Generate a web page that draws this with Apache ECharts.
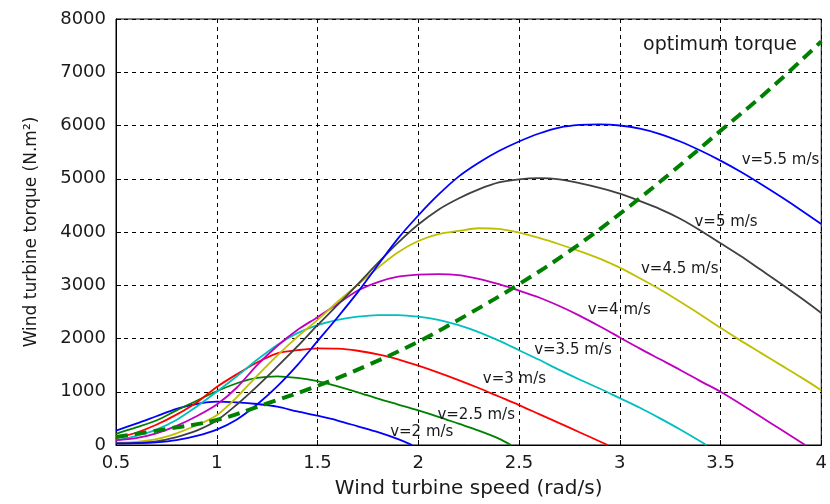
<!DOCTYPE html>
<html>
<head>
<meta charset="utf-8">
<script src="https://cdn.jsdelivr.net/npm/echarts@6/dist/echarts.min.js"></script>
<style>html,body{margin:0;padding:0;background:#fff}#c{width:830px;height:504px}</style>
</head>
<body>
<div id="c"></div>
<script>
var xTicks = [0.5, 1, 1.5, 2, 2.5, 3, 3.5, 4];
var yTicks = [0, 1000, 2000, 3000, 4000, 5000, 6000, 7000, 8000];

var v2_x  = [0.5,0.6,0.7,0.8,0.9,1.0,1.1,1.2,1.3,1.4,1.5,1.6,1.7,1.8,1.9,1.97];
var v2_t  = [270,400,540,680,770,815,800,770,720,630,550,460,350,240,110,0];

var v25_x = [0.5,0.6,0.7,0.8,0.9,1.0,1.1,1.2,1.3,1.4,1.5,1.6,1.7,1.8,1.9,2.0,2.1,2.2,2.3,2.4,2.46];
var v25_t = [210,330,460,650,830,1010,1160,1260,1290,1260,1200,1100,990,870,760,650,530,400,270,120,0];

var v3_x  = [0.5,0.6,0.7,0.8,0.9,1.0,1.1,1.2,1.3,1.4,1.5,1.6,1.7,1.8,1.9,2.0,2.1,2.2,2.3,2.4,2.5,2.6,2.7,2.8,2.94];
var v3_t  = [130,230,380,570,800,1090,1330,1550,1720,1780,1815,1810,1770,1700,1610,1490,1360,1220,1070,910,750,580,410,240,0];

var v35_x = [0.5,0.6,0.7,0.8,0.9,1.0,1.1,1.2,1.3,1.4,1.5,1.6,1.7,1.8,1.9,2.0,2.1,2.2,2.3,2.4,2.5,2.6,2.7,2.8,2.9,3.0,3.1,3.2,3.3,3.43];
var v35_t = [80,170,290,470,720,1000,1290,1600,1880,2100,2250,2350,2410,2440,2440,2410,2350,2250,2120,1960,1780,1600,1410,1230,1060,880,700,500,290,0];

var v4_x  = [0.5,0.6,0.7,0.8,0.9,1.0,1.1,1.2,1.3,1.4,1.5,1.6,1.7,1.8,1.9,2.0,2.1,2.2,2.3,2.4,2.5,2.6,2.7,2.8,2.9,3.0,3.1,3.2,3.3,3.4,3.5,3.6,3.7,3.8,3.92];
var v4_t  = [90,130,220,360,540,760,1080,1500,1860,2160,2400,2650,2900,3060,3160,3200,3210,3190,3120,3020,2900,2770,2610,2430,2230,2020,1810,1610,1410,1200,1000,770,530,290,0];

var full_x = [0.5,0.6,0.7,0.8,0.9,1.0,1.1,1.2,1.3,1.4,1.5,1.6,1.7,1.8,1.9,2.0,2.1,2.2,2.3,2.4,2.5,2.6,2.7,2.8,2.9,3.0,3.1,3.2,3.3,3.4,3.5,3.6,3.7,3.8,3.9,4.0];
var v45_t = [40,60,110,220,370,560,900,1300,1680,2030,2350,2690,3010,3330,3620,3830,3960,4020,4070,4060,3990,3890,3770,3640,3500,3330,3130,2920,2690,2450,2200,1960,1730,1500,1270,1030];
var v5_t  = [30,40,70,150,270,460,760,1100,1470,1850,2250,2630,3020,3420,3800,4140,4420,4630,4800,4930,4990,5010,4990,4920,4830,4720,4580,4430,4250,4030,3790,3550,3290,3030,2760,2480];
var v55_t = [30,35,50,90,170,290,480,760,1100,1500,1950,2400,2870,3380,3880,4310,4700,5040,5300,5520,5700,5850,5960,6010,6020,6000,5940,5840,5700,5530,5340,5130,4900,4660,4410,4150];

var opt_x = [0.5,0.75,1.0,1.25,1.5,1.75,2.0,2.25,2.5,2.75,3.0,3.25,3.5,3.75,4.0];
var opt_t = [150,300,470,780,1110,1500,1940,2460,3020,3640,4340,5100,5900,6700,7580];

var curveNames = ['v=2 m/s','v=2.5 m/s','v=3 m/s','v=3.5 m/s','v=4 m/s','v=4.5 m/s','v=5 m/s','v=5.5 m/s'];
var optName = 'optimum torque';

function pairs(xs, ys) { return xs.map(function (x, i) { return [x, ys[i]]; }); }

var FONT = 'DejaVu Sans';
var TXT = '#1a1a1a';

function curve(name, xs, ys, color, labelCoord) {
  return {
    name: name, type: 'line', data: pairs(xs, ys), smooth: 0.3,
    showSymbol: false, symbol: 'none', animation: false,
    lineStyle: { color: color, width: 1.8 },
    markPoint: {
      symbol: 'rect', symbolSize: 1, itemStyle: { color: 'rgba(0,0,0,0)' },
      label: { show: true, formatter: name, position: [0, 0], align: 'center', verticalAlign: 'middle',
               color: TXT, fontFamily: FONT, fontSize: 15 },
      data: [{ coord: labelCoord }]
    }
  };
}

var chart = echarts.init(document.getElementById('c'), null, { renderer: 'canvas' });
chart.setOption({
  animation: false,
  backgroundColor: '#ffffff',
  grid: { left: 116, right: 2, top: 19, bottom: 59, show: true, borderColor: '#000', borderWidth: 1, backgroundColor: '#fff' },
  xAxis: {
    type: 'value', min: 0.5, max: 4, interval: 0.5,
    name: 'Wind turbine speed (rad/s)', nameLocation: 'middle', nameGap: 34,
    nameTextStyle: { color: TXT, fontFamily: FONT, fontSize: 20 },
    axisLine: { show: true, lineStyle: { color: '#000', width: 1 } },
    axisTick: { show: true, inside: true, length: 5, lineStyle: { color: '#000' } },
    axisLabel: { color: TXT, fontFamily: FONT, fontSize: 18, margin: 9,
                 formatter: function (v) { return xTicks.indexOf(v) >= 0 ? String(v) : ''; } },
    splitLine: { show: true, lineStyle: { color: '#000', type: [4, 4], width: 1 } }
  },
  yAxis: {
    type: 'value', min: 0, max: 8000, interval: 1000,
    name: 'Wind turbine torque (N.m²)', nameLocation: 'middle', nameGap: 76,
    nameTextStyle: { color: TXT, fontFamily: FONT, fontSize: 17 },
    axisLine: { show: true, lineStyle: { color: '#000', width: 1 } },
    axisTick: { show: true, inside: true, length: 5, lineStyle: { color: '#000' } },
    axisLabel: { color: TXT, fontFamily: FONT, fontSize: 18, margin: 10,
                 formatter: function (v) { return yTicks.indexOf(v) >= 0 ? String(v) : ''; } },
    splitLine: { show: true, lineStyle: { color: '#000', type: [4, 4], width: 1 } }
  },
  series: [
    curve(curveNames[0], v2_x, v2_t, '#0000ff', [2.02, 225]),
    curve(curveNames[1], v25_x, v25_t, '#008000', [2.29, 545]),
    curve(curveNames[2], v3_x, v3_t, '#ff0000', [2.48, 1220]),
    curve(curveNames[3], v35_x, v35_t, '#00bfbf', [2.77, 1780]),
    curve(curveNames[4], v4_x, v4_t, '#bf00bf', [3.0, 2520]),
    curve(curveNames[5], full_x, v45_t, '#bfbf00', [3.30, 3290]),
    curve(curveNames[6], full_x, v5_t, '#404040', [3.53, 4170]),
    curve(curveNames[7], full_x, v55_t, '#0000ff', [3.80, 5350]),
    {
      name: optName, type: 'line', data: pairs(opt_x, opt_t), smooth: 0.4,
      showSymbol: false, symbol: 'none', animation: false, z: 3,
      lineStyle: { color: '#008000', width: 4, type: [12, 7] },
      markPoint: {
        symbol: 'rect', symbolSize: 1, itemStyle: { color: 'rgba(0,0,0,0)' },
        label: { show: true, formatter: optName, position: [0, 0], align: 'center', verticalAlign: 'middle',
                 color: TXT, fontFamily: FONT, fontSize: 19 },
        data: [{ coord: [3.5, 7510] }]
      }
    }
  ]
});
</script>
</body>
</html>
